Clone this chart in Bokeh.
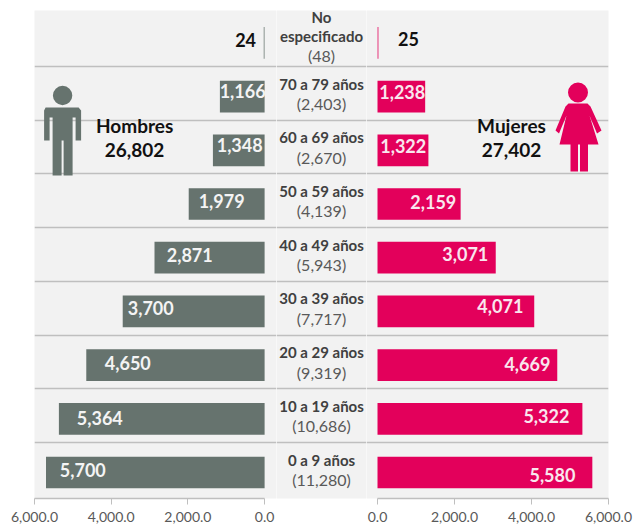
from bokeh.plotting import figure
from bokeh.layouts import row
from bokeh.models import Range1d, FixedTicker, NumeralTickFormatter, LinearAxis
from bokeh.core.properties import value
from bokeh.embed import file_html
from bokeh.resources import INLINE

# ---- data (bottom row first) ----
AGE_GROUPS = ["0 a 9 años", "10 a 19 años", "20 a 29 años", "30 a 39 años",
              "40 a 49 años", "50 a 59 años", "60 a 69 años", "70 a 79 años"]
AGE_TOTALS = [11280, 10686, 9319, 7717, 5943, 4139, 2670, 2403]
MEN = [5700, 5364, 4650, 3700, 2871, 1979, 1348, 1166]
WOMEN = [5580, 5322, 4669, 4071, 3071, 2159, 1322, 1238]
MEN_UNSPECIFIED = 24
WOMEN_UNSPECIFIED = 25
UNSPECIFIED_TOTAL = 48
MEN_TOTAL = 26802
WOMEN_TOTAL = 27402
AXIS_TICKS = [0, 2000, 4000, 6000]

# ---- layout ----
ROWS = list(range(len(AGE_GROUPS)))
SEPARATORS = [0.56, 1.56, 2.56, 3.56, 4.56, 5.56, 6.56, 7.56]
BAR_H = 0.59
MEN_LABEL_X = [4740, 4297, 3568, 2969, 1953, 1120, 650, 573]
MEN_LABEL_DY = [-3, -1, -2, -3, -3, -3, -5, -6]
WOMEN_LABEL_X = [4544, 4387, 3893, 3191, 2281, 1449, 668, 642]
WOMEN_LABEL_DY = [2, -3, -1, -5, -4, -2, -4, -5]

GREY = "#66736E"
PINK = "#E3005B"
PANEL = "#F2F2F2"
SEP = "#BFBFBF"
FONT = value("Lato")
Y_RANGE = (-0.484, 8.603)


def py(v):
    return (472 - v) / 53.7


def base(x_range, frame_w, left, right, bottom=27):
    p = figure(x_range=x_range, y_range=Range1d(*Y_RANGE),
               frame_width=frame_w, frame_height=488,
               min_border_left=left, min_border_right=right,
               min_border_top=10, min_border_bottom=bottom,
               toolbar_location=None, output_backend="svg",
               x_axis_location=None, y_axis_location=None,
               background_fill_color=PANEL, border_fill_color="white",
               outline_line_color=None)
    p.grid.visible = False
    return p


def add_axis(p):
    ax = LinearAxis(ticker=FixedTicker(ticks=AXIS_TICKS),
                    formatter=NumeralTickFormatter(format="0,0.0"),
                    bounds=(0, 6000),
                    axis_line_color="#BFBFBF", axis_line_width=1.5,
                    major_tick_line_color="#BFBFBF", major_tick_in=0, major_tick_out=6,
                    minor_tick_line_color=None,
                    major_label_text_font="Lato", major_label_text_font_size="14px",
                    major_label_text_color="#595959", major_label_standoff=7)
    p.add_layout(ax, "below")


# ---- men ----
left = base(Range1d(6000, -310), 242, 34, 0)
add_axis(left)
left.hspan(y=SEPARATORS, line_color=SEP, line_width=1.5)
left.hbar(y=ROWS, left=0, right=MEN, height=BAR_H, fill_color=GREY, line_color=None)
left.hbar(y=[8], left=0, right=[MEN_UNSPECIFIED], height=BAR_H, fill_color=GREY, line_color=None, fill_alpha=0.8)
left.text(x=MEN_LABEL_X, y=ROWS, text=[f"{v:,}" for v in MEN], y_offset=MEN_LABEL_DY,
          text_color="#F4F4F4", text_font=FONT, text_font_style="bold", text_font_size="18px",
          text_align="center", text_baseline="middle")
left.text(x=[(264 - 245) / 0.03835], y=[py(40)], text=[str(MEN_UNSPECIFIED)],
          text_color="#111111", text_font=FONT, text_font_style="bold", text_font_size="18px",
          text_align="center", text_baseline="middle")
left.text(x=[(264 - 134) / 0.03835] * 2, y=[py(125), py(150)], text=["Hombres", f"{MEN_TOTAL:,}"],
          text_color="#111111", text_font=FONT, text_font_style="bold", text_font_size="19px",
          text_align="center", text_baseline="middle")

lx = lambda a: [(264 - v) / 0.03835 for v in a]
ly = lambda a: [py(v) for v in a]
left.circle(x=[(264 - 62) / 0.03835], y=[py(95)], radius=9.7, radius_units="screen",
            fill_color=GREY, line_color=None)
man_x = [45, 78, 80.5, 80.5, 75, 75, 72, 72, 63, 63, 61, 61, 52, 52, 49, 49, 43.5, 43.5]
man_y = [107, 107, 110, 140, 140, 117, 117, 175, 175, 140, 140, 175, 175, 117, 117, 140, 140, 110]
left.patch(lx(man_x), ly(man_y), fill_color=GREY, line_color=None)

# ---- centre ----
mid = base(Range1d(0, 1), 90, 0, 0)
mid.hspan(y=SEPARATORS, line_color=SEP, line_width=1.5)
mid.text(x=[0.5] * len(ROWS), y=ROWS, text=AGE_GROUPS, y_offset=[-13] * len(ROWS),
         text_color="#404040", text_font=FONT, text_font_style="bold", text_font_size="15px",
         text_align="center", text_baseline="middle")
mid.text(x=[0.5] * len(ROWS), y=ROWS, text=[f"({v:,})" for v in AGE_TOTALS], y_offset=[7] * len(ROWS),
         text_color="#595959", text_font=FONT, text_font_size="16px",
         text_align="center", text_baseline="middle")
mid.text(x=[0.5, 0.5], y=[8, 8], text=["No", "especificado"], y_offset=[-26, -7],
         text_color="#404040", text_font=FONT, text_font_style="bold", text_font_size="15px",
         text_align="center", text_baseline="middle")
mid.text(x=[0.5], y=[8], text=[f"({UNSPECIFIED_TOTAL})"], y_offset=[13],
         text_color="#595959", text_font=FONT, text_font_size="16px",
         text_align="center", text_baseline="middle")

# ---- women ----
right = base(Range1d(-286, 6000), 242, 0, 26)
add_axis(right)
right.hspan(y=SEPARATORS, line_color=SEP, line_width=1.5)
right.hbar(y=ROWS, left=0, right=WOMEN, height=BAR_H, fill_color=PINK, line_color=None)
right.hbar(y=[8], left=0, right=[WOMEN_UNSPECIFIED], height=BAR_H, fill_color=PINK, line_color=None, fill_alpha=0.8)
right.text(x=WOMEN_LABEL_X, y=ROWS, text=[f"{v:,}" for v in WOMEN], y_offset=WOMEN_LABEL_DY,
           text_color="#F9E6EE", text_font=FONT, text_font_style="bold", text_font_size="18px",
           text_align="center", text_baseline="middle")
rx = lambda a: [(v - 377) / 0.0385 for v in a]
right.text(x=rx([408]), y=[py(39)], text=[str(WOMEN_UNSPECIFIED)],
           text_color="#111111", text_font=FONT, text_font_style="bold", text_font_size="18px",
           text_align="center", text_baseline="middle")
right.text(x=rx([511, 511]), y=[py(125), py(150)], text=["Mujeres", f"{WOMEN_TOTAL:,}"],
           text_color="#111111", text_font=FONT, text_font_style="bold", text_font_size="19px",
           text_align="center", text_baseline="middle")
right.circle(x=rx([577.5]), y=[py(92)], radius=10, radius_units="screen", fill_color=PINK, line_color=None)
dress_x = [568, 587, 590, 601, 596.5, 589, 598, 587.5, 587.5, 579.5, 579.5, 577.5, 577.5, 570, 570, 559, 566, 558.5, 555, 565]
dress_y = [103, 103, 106, 130, 133, 115, 144, 144, 171, 171, 144, 144, 171, 171, 144, 144, 115, 133, 130, 106]
right.patch(rx(dress_x), ly(dress_y), fill_color=PINK, line_color=None)

page = row(left, mid, right, spacing=0)
open("out.html", "w").write(file_html(page, INLINE))
